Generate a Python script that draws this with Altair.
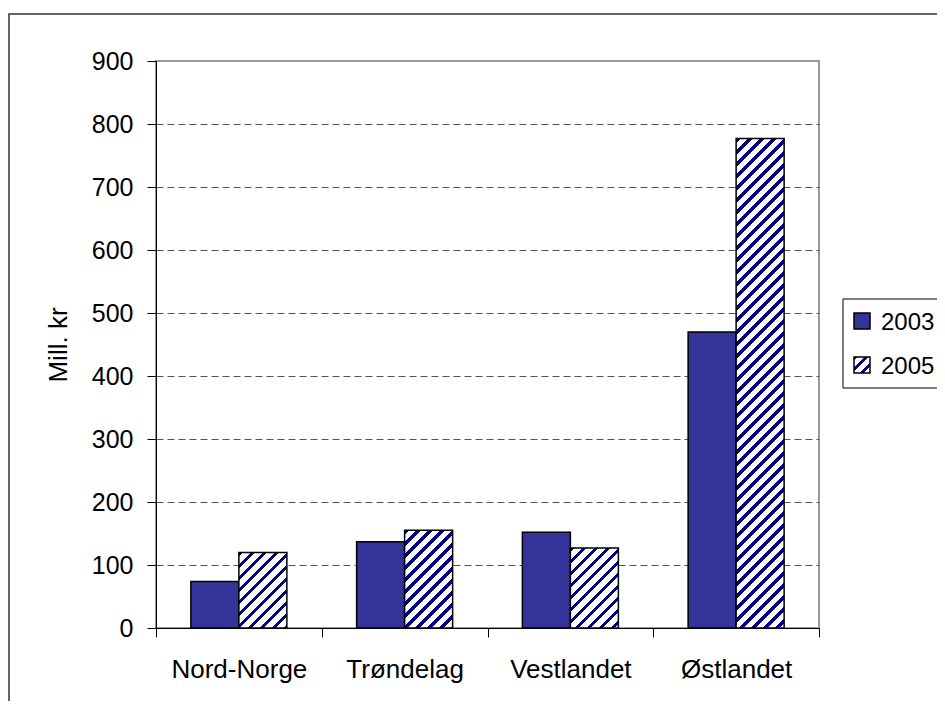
import altair as alt
import pandas as pd

# ---- data ----
regions = ["Nord-Norge", "Trøndelag", "Vestlandet", "Østlandet"]
years = ["2003", "2005"]
values_2003 = [74, 137, 152, 470]
values_2005 = [120, 155, 127, 777]
y_ticks = [0, 100, 200, 300, 400, 500, 600, 700, 800, 900]

rows = []
for r, a, b in zip(regions, values_2003, values_2005):
    rows.append({"region": r, "year": years[0], "value": a})
    rows.append({"region": r, "year": years[1], "value": b})
df = pd.DataFrame(rows)

# ---- layout / style ----
W, H = 663, 567
YMAX = 900
PO = 0.7266  # outer padding of the year offset scale
FONT = "Liberation Sans"
FS = 25
NAVY = "#000080"
C2003 = "#333399"


def hatch(w, h, period=12.0, ink=4.5):
    L = w + h
    stops = []
    pos = 0.0
    while pos < L:
        a = pos / L
        b = min((pos + ink) / L, 1.0)
        c = min((pos + period) / L, 1.0)
        stops += [
            {"offset": a, "color": NAVY},
            {"offset": b, "color": NAVY},
            {"offset": b, "color": "#ffffff"},
            {"offset": c, "color": "#ffffff"},
        ]
        pos += period
    den = w * w + h * h
    return {"gradient": "linear", "x1": 0, "y1": 0,
            "x2": w * L / den, "y2": h * L / den, "stops": stops}


bar_w = (W / len(regions)) / (2 + 2 * PO)

x_enc = alt.X(
    "region:N", sort=regions,
    scale=alt.Scale(paddingInner=0, paddingOuter=0),
    axis=alt.Axis(title=None, labelAngle=0, tickBand="extent", tickSize=9,
                  tickColor="black", domainColor="black", labelPadding=19,
                  labelFontSize=26, grid=False),
)
xo_enc = alt.XOffset("year:N", sort=years,
                     scale=alt.Scale(domain=years, paddingInner=0, paddingOuter=PO))
y_enc = alt.Y(
    "value:Q",
    scale=alt.Scale(domain=[0, YMAX], nice=False, zero=True),
    axis=alt.Axis(values=y_ticks, tickSize=9, tickColor="black", domainColor="black",
                  labelPadding=14, labelFontSize=FS, titleFontSize=26, titlePadding=20,
                  grid=True, gridColor="#555555", gridDash=[7, 4], gridWidth=1,
                  gridOpacity={"condition": {"test": "datum.value >= 900", "value": 0}, "value": 1}),
    title="Mill. kr",
)

base = alt.Chart(df).encode(x=x_enc, xOffset=xo_enc, y=y_enc)

bars03 = base.transform_filter(f"datum.year == '{years[0]}'").mark_bar(
    fill=C2003, stroke="black", strokeWidth=1.5)

bars05 = []
for r, v in zip(regions, values_2005):
    h = v * H / YMAX
    bars05.append(
        base.transform_filter(f"datum.year == '{years[1]}' && datum.region == '{r}'")
        .mark_bar(fill=hatch(bar_w, h), stroke="black", strokeWidth=1.5)
    )

one = pd.DataFrame({"k": [0]})
frame = alt.Chart(one).mark_rect(fillOpacity=0, stroke="#333333", strokeWidth=1.5).encode(
    x=alt.value(-147), x2=alt.value(1000), y=alt.value(-47), y2=alt.value(1000))

leg = pd.DataFrame({"year": years})
legend_box = alt.Chart(one).mark_rect(fill="white", stroke="black", strokeWidth=1).encode(
    x=alt.value(687), x2=alt.value(900), y=alt.value(238), y2=alt.value(327))
sym03 = alt.Chart(one).mark_rect(fill=C2003, stroke="black", strokeWidth=1.5).encode(
    x=alt.value(698), x2=alt.value(714), y=alt.value(252), y2=alt.value(268))
sym05 = alt.Chart(one).mark_rect(fill=hatch(16, 16, period=11, ink=4), stroke="black",
                                 strokeWidth=1.5).encode(
    x=alt.value(698), x2=alt.value(714), y=alt.value(296), y2=alt.value(312))
txt03 = alt.Chart(leg).transform_filter(f"datum.year == '{years[0]}'").mark_text(
    align="left", baseline="alphabetic", font=FONT, fontSize=24, color="black").encode(
    text="year:N", x=alt.value(725), y=alt.value(269))
txt05 = alt.Chart(leg).transform_filter(f"datum.year == '{years[1]}'").mark_text(
    align="left", baseline="alphabetic", font=FONT, fontSize=24, color="black").encode(
    text="year:N", x=alt.value(725), y=alt.value(313))

chart = alt.layer(
    frame, bars03, *bars05, legend_box, sym03, sym05, txt03, txt05
).properties(
    width=W, height=H, autosize="none",
    padding={"left": 148, "top": 53, "right": 118, "bottom": 73},
).configure_view(
    stroke="#999999", strokeWidth=2
).configure_axis(
    labelFont=FONT, titleFont=FONT, labelColor="black", titleColor="black",
    titleFontWeight="normal", domainWidth=1, tickWidth=1,
)

chart.save("out.html", embed_options={"renderer": "svg", "actions": False})
